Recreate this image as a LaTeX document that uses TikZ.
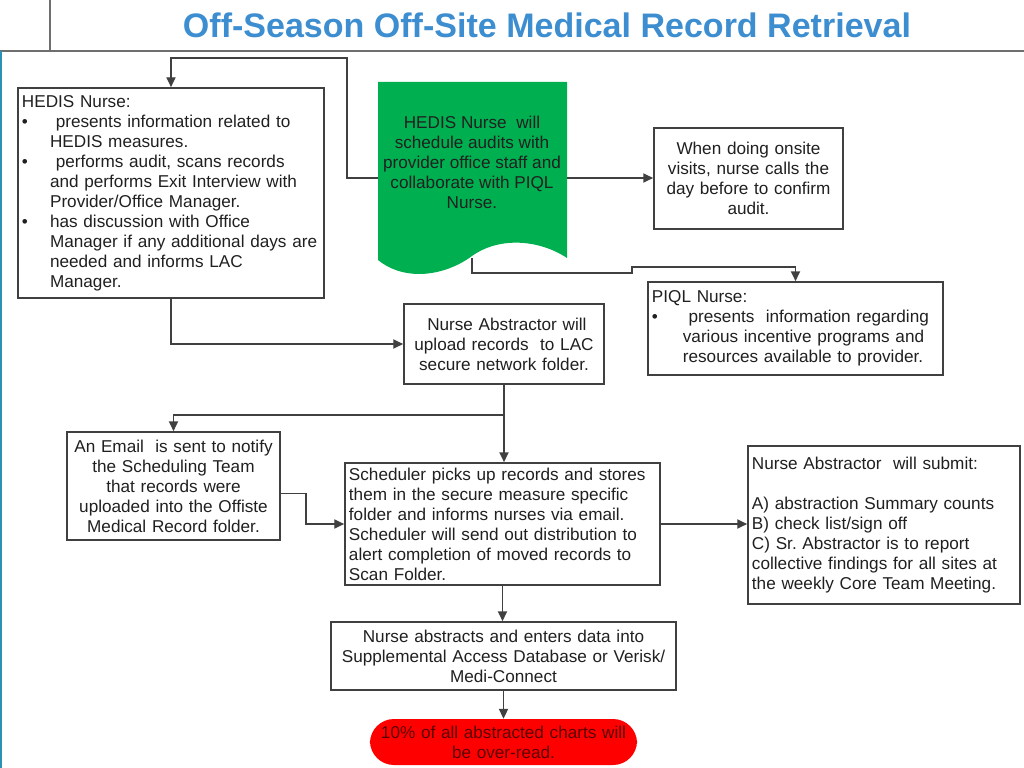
\documentclass[tikz,border=0pt]{standalone}
\usepackage{fontspec}
\setmainfont{Liberation Sans}
\usetikzlibrary{arrows.meta}
\definecolor{titleblue}{HTML}{3D8ED0}
\definecolor{ink}{HTML}{202020}
\definecolor{edge}{HTML}{404040}
\definecolor{docgreen}{HTML}{00B050}
\definecolor{alertred}{HTML}{FF0000}
\definecolor{alertink}{HTML}{5A0000}
\definecolor{rulegray}{HTML}{6E6E6E}
\definecolor{sideteal}{HTML}{2A93B5}
\newcommand{\bodyfont}{\fontsize{12.2pt}{14.2pt}\selectfont}
\newcommand{\bul}[1][20pt]{\makebox[#1][l]{\textbullet}}
\newcommand{\ind}[1][20pt]{\hspace*{#1}}
\tikzset{
  box/.style={draw=edge, line width=1.2pt, fill=white, text=ink, inner xsep=0.1cm, font=\bodyfont},
  leftbox/.style={box, align=left},
  midbox/.style={box, align=center},
  doctext/.style={text=ink, align=center, font=\bodyfont},
  alert/.style={fill=alertred, text=alertink, align=center, rounded corners=0.6cm, inner xsep=0.1cm, font=\bodyfont},
  flow/.style={draw=edge, line width=1pt, -{Triangle[length=7pt, width=6.5pt]}},
  link/.style={draw=edge, line width=1pt},
  rule/.style={draw=rulegray, line width=1pt}
}

\begin{document}
\begin{tikzpicture}[x=0.025cm, y=-0.025cm]
  \useasboundingbox (0,0) rectangle (1024,768);

  % ---- Page frame and title ------------------------------------------------
  \draw[rule] (50,0) -- (50,51);
  \draw[rule] (0,51) -- (1024,51);
  \draw[sideteal, line width=1.6pt] (1,51) -- (1,768);
  \node[font=\fontsize{24.2pt}{28pt}\selectfont\bfseries, text=titleblue] (title) at (547,25)
    {Off-Season Off-Site Medical Record Retrieval};

  % ---- Scheduling document (green, wavy bottom) ----------------------------
  \fill[docgreen] (378,82) -- (567,82) -- (567,258)
    .. controls (540,240) and (500,236) .. (472,256)
    .. controls (445,276) and (405,282) .. (378,260) -- cycle;
  \node[doctext] (sched) at (472,162)
    {HEDIS Nurse\ \ will\\schedule audits with\\provider office staff and\\collaborate with PIQL\\Nurse.};
  \coordinate (schedW) at (378,178);
  \coordinate (schedE) at (567,178);
  \coordinate (schedS) at (472,258);
  \coordinate (loopTop) at (347,58);
  \coordinate (jogLow) at (632,273);
  \coordinate (jogHigh) at (632,267);

  % ---- Boxes ----------------------------------------------------------------
  \node[leftbox, text width=7.45cm, minimum height=5.25cm] (hedis) at (171,193)
    {HEDIS Nurse:\\
     \bul\ presents information related to\\
     \ind HEDIS measures.\\
     \bul\ performs audit, scans records\\
     \ind and performs Exit Interview with\\
     \ind Provider/Office Manager.\\
     \bul has discussion with Office\\
     \ind Manager if any additional days are\\
     \ind needed and informs LAC\\
     \ind Manager.};
  \node[midbox, text width=4.525cm, minimum height=2.525cm] (onsite) at (748.5,178.5)
    {When doing onsite\\visits, nurse calls the\\day before to confirm\\audit.};
  \node[leftbox, text width=7.175cm, minimum height=2.325cm] (piql) at (795.5,328.5)
    {PIQL Nurse:\\
     \bul[22pt]\ presents\ \ information regarding\\
     \ind[22pt]various incentive programs and\\
     \ind[22pt]resources available to provider.};
  \node[midbox, text width=4.8cm, minimum height=2cm] (upload) at (504,344)
    {\ Nurse Abstractor will\\upload records\ \ to LAC\\secure network folder.};
  \node[midbox, text width=5.125cm, minimum height=2.7cm] (email) at (173.5,486)
    {An Email\ \ is sent to notify\\the Scheduling Team\\that records were\\uploaded into the Offiste\\Medical Record folder.};
  \node[leftbox, text width=7.675cm, minimum height=3.05cm] (schedr) at (502.5,524)
    {Scheduler picks up records and stores\\them in the secure measure specific\\folder and informs nurses via email.\\Scheduler will send out distribution to\\alert completion of moved records to\\Scan Folder.};
  \node[leftbox, text width=6.6cm, minimum height=3.95cm] (submit) at (884,525)
    {Nurse Abstractor\ \ will submit:\\[14.2pt]
     A) abstraction Summary counts\\
     B) check list/sign off\\
     C) Sr.\ Abstractor is to report\\
     collective findings for all sites at\\
     the weekly Core Team Meeting.};
  \node[midbox, text width=8.425cm, minimum height=1.7cm] (abstr) at (503.5,656)
    {Nurse abstracts and enters data into\\Supplemental Access Database or Verisk/\\Medi-Connect};
  \node[alert, text width=6.475cm, minimum height=1.15cm] (overread) at (503.5,742)
    {10\% of all abstracted charts will\\be over-read.};

  % ---- Connectors -----------------------------------------------------------
  \draw[flow] (schedW) -| (loopTop) -| (hedis.north);
  \draw[flow] (schedE) -- (schedE -| onsite.west);
  \draw[flow] (schedS) |- (jogLow) -- (jogHigh) -| (piql.north);
  \draw[flow] (hedis.south) |- (upload.west);
  \coordinate (split) at (504,415);
  \draw[link] (upload.south) -- (split);
  \draw[flow] (split) -| (email.north);
  \draw[flow] (split) -- (split |- schedr.north);
  \draw[flow] ([yshift=-0.18cm]email.east) -- ++(25,0) |- (schedr.west);
  \draw[flow] (schedr.east) -- (schedr.east -| submit.west);
  \draw[flow] (schedr.south) -- (schedr.south |- abstr.north);
  \draw[flow] (abstr.south) -- (abstr.south |- overread.north);

\end{tikzpicture}
\end{document}
